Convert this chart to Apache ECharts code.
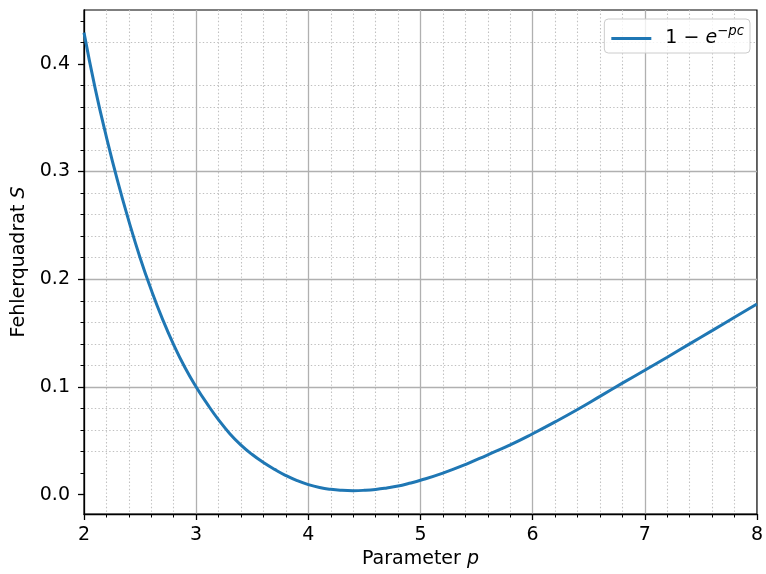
<!DOCTYPE html>
<html>
<head>
<meta charset="utf-8">
<script src="https://cdn.jsdelivr.net/npm/echarts@6/dist/echarts.min.js"></script>
<style>
html,body{margin:0;padding:0;background:#fff;}
#chart{width:766px;height:574px;}
</style>
</head>
<body>
<div id="chart"></div>
<script>
// Parameter p
const pValues = [2.0,2.1,2.2,2.3,2.4,2.5,2.6,2.7,2.8,2.9,
                 3.0,3.1,3.2,3.3,3.4,3.5,3.6,3.7,3.8,3.9,
                 4.0,4.1,4.2,4.3,4.4,4.5,4.6,4.7,4.8,4.9,
                 5.0,5.2,5.4,5.6,5.8,6.0,6.2,6.4,6.6,6.8,
                 7.0,7.2,7.4,7.6,7.8,8.0];
// Fehlerquadrat S
const sValues = [0.429,0.377,0.332,0.291,0.254,0.220,0.190,0.163,0.139,0.118,
                 0.100,0.084,0.0694,0.0566,0.046,0.0372,0.0298,0.0234,0.0177,0.0130,
                 0.0093,0.0066,0.0049,0.0040,0.0037,0.0040,0.0048,0.0062,0.0080,0.0105,
                 0.0133,0.0200,0.0279,0.0370,0.0462,0.0565,0.0675,0.0790,0.0912,0.1035,
                 0.1155,0.1276,0.1400,0.1523,0.1647,0.1770];
const xTicks = [2,3,4,5,6,7,8];
const yTicks = [0.0,0.1,0.2,0.3,0.4];
const yMinorTicks = [0.02,0.04,0.06,0.08,0.12,0.14,0.16,0.18,0.22,0.24,0.26,0.28,
                     0.32,0.34,0.36,0.38,0.42,0.44];
const seriesName = '1 − e^{−pc}';

const FONT = 'DejaVu Sans';
const FS = 19;
const GRID = '#b0b0b0';
const MINOR = '#c0c0c0';
const BLUE = '#1f77b4';

const chart = echarts.init(document.getElementById('chart'), null, {renderer:'canvas'});
chart.setOption({
  animation: false,
  backgroundColor: '#fff',
  textStyle: {fontFamily: FONT},
  grid: {left: 84, top: 10, width: 675, height: 504, show: true, borderColor: '#000', borderWidth: 1.2, backgroundColor: 'transparent', containLabel: false},
  legend: {
    right: 16, top: 19,
    itemWidth: 40, itemHeight: 3,
    padding: [6, 6, 5, 7],
    borderColor: '#cccccc', borderWidth: 1, borderRadius: 4,
    backgroundColor: 'rgba(255,255,255,0.8)',
    data: [{name: seriesName, icon: 'rect', itemStyle: {color: BLUE}}],
    formatter: function(){ return '{a|1 − }{e|e}{s|−}{si|pc}'; },
    textStyle: {
      fontFamily: FONT, color: '#000',
      rich: {
        a: {fontFamily: FONT, fontSize: FS, lineHeight: 27, padding: [0,0,0,9], color:'#000'},
        e: {fontFamily: FONT, fontSize: FS, fontStyle: 'italic', lineHeight: 27, color:'#000'},
        s: {fontFamily: FONT, fontSize: 13.3, lineHeight: 14, verticalAlign: 'top', color:'#000'},
        si: {fontFamily: FONT, fontSize: 13.3, fontStyle: 'italic', lineHeight: 14, verticalAlign: 'top', color:'#000'}
      }
    }
  },
  xAxis: [{
    type: 'value', min: 2, max: 8, interval: 1, z: 1,
    name: '{n|Parameter }{i|p}', nameLocation: 'middle', nameGap: 36,
    nameTextStyle: {rich: {
      n: {fontFamily: FONT, fontSize: FS, color: '#000'},
      i: {fontFamily: FONT, fontSize: FS, fontStyle: 'italic', color: '#000'}
    }},
    axisLine: {show: true, onZero: false, lineStyle: {color: '#000', width: 1.3}},
    axisTick: {show: true, length: 6, lineStyle: {color: '#000', width: 1.3}},
    minorTick: {show: true, splitNumber: 5, length: 3.5, lineStyle: {color: '#000', width: 1}},
    axisLabel: {margin: 12, fontFamily: FONT, fontSize: FS, color: '#000', formatter: v => String(v)},
    splitLine: {show: true, showMinLine: false, showMaxLine: false, lineStyle: {color: GRID, width: 1.3}},
    minorSplitLine: {show: true, lineStyle: {color: MINOR, width: 1.1, type: [1.4, 2.2]}}
  }],
  yAxis: [{
    type: 'value', min: -0.018, max: 0.45, splitNumber: 5, position: 'left', z: 1,
    name: '{n|Fehlerquadrat }{i|S}', nameLocation: 'middle', nameGap: 51, nameRotate: 90,
    nameTextStyle: {rich: {
      n: {fontFamily: FONT, fontSize: FS, color: '#000'},
      i: {fontFamily: FONT, fontSize: FS, fontStyle: 'italic', color: '#000'}
    }},
    axisLine: {show: true, onZero: false, lineStyle: {color: '#000', width: 1.3}},
    axisTick: {show: true, length: 6, customValues: yTicks, lineStyle: {color: '#000', width: 1.3}},
    axisLabel: {margin: 14, customValues: yTicks, fontFamily: FONT, fontSize: FS, color: '#000', formatter: v => v.toFixed(1)},
    splitLine: {show: true, showMinLine: false, showMaxLine: false, lineStyle: {color: GRID, width: 1.3}}
  }, {
    type: 'value', min: -0.018, max: 0.45, splitNumber: 23, position: 'left', z: 0,
    axisLine: {show: false},
    axisTick: {show: true, length: 3.5, customValues: yMinorTicks, lineStyle: {color: '#000', width: 1}},
    axisLabel: {show: false},
    splitLine: {show: true, showMinLine: false, showMaxLine: false, lineStyle: {color: MINOR, width: 1.1, type: [1.4, 2.2]}}
  }],
  series: [{
    name: seriesName, type: 'line', xAxisIndex: 0, yAxisIndex: 0, z: 3,
    symbol: 'none', smooth: true, clip: true,
    lineStyle: {color: BLUE, width: 3},
    itemStyle: {color: BLUE},
    data: pValues.map((p, i) => [p, sValues[i]])
  }]
});
</script>
</body>
</html>
